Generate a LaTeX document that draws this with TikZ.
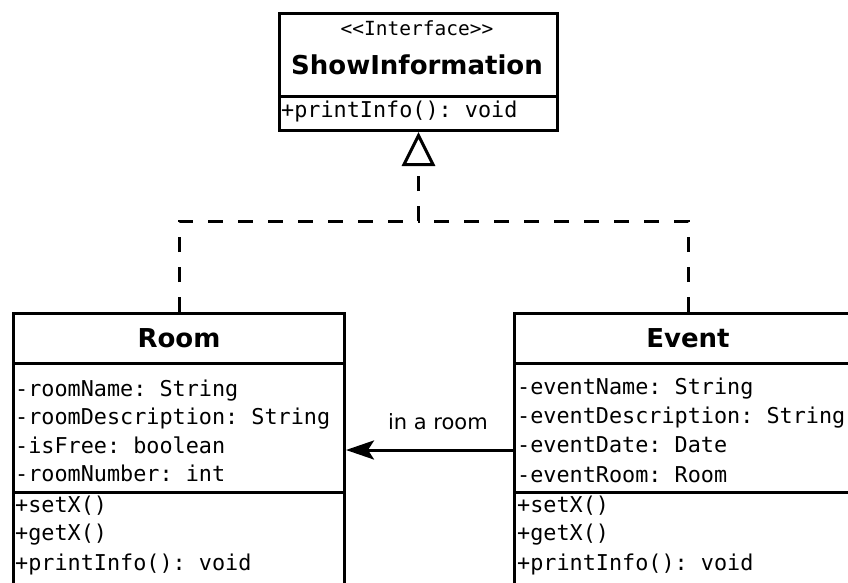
\documentclass[tikz,border=0pt]{standalone}
\usepackage{fontspec}
\setmainfont{DejaVu Sans}
\setmonofont{DejaVu Sans Mono}
\usetikzlibrary{arrows.meta}

\begin{document}
\begin{tikzpicture}[x=1pt,y=-1pt,
        part/.style={draw,line width=3pt,anchor=north west,inner sep=0pt},
        classname/.style={font=\fontsize{26}{30}\selectfont\bfseries},
        member/.style={anchor=west,inner sep=0pt,text height=15pt,text depth=4pt,font=\fontsize{21.8}{26}\ttfamily},
        realize/.style={line width=3pt,dash pattern=on 15pt off 15pt}]
    \useasboundingbox (0,0) rectangle (848,582);

    % interface
    \node[part,minimum width=278pt,minimum height=83pt] (ifname) at (278,12) {};
    \node[part,minimum width=278pt,minimum height=34pt] (ifops) at (278,95) {};
    \node[inner sep=0pt,font=\fontsize{19.5}{22}\ttfamily] (stereo) at (417,28) {<<Interface>>};
    \node[classname,inner sep=0pt] (ifclass) at (417,65) {ShowInformation};
    \node[member] (ifprint) at (281,112) {+printInfo(): void};

    % Room
    \node[part,minimum width=331pt,minimum height=50pt] (roomname) at (12,312) {};
    \node[part,minimum width=331pt,minimum height=129pt] (roomattr) at (12,362) {};
    \node[part,minimum width=331pt,minimum height=130pt] (roomops) at (12,491) {};
    \node[classname] (roomtitle) at (roomname.center) {Room};
    \node[member] (roomA) at (15,391) {-roomName: String};
    \node[member] (roomB) at (15,419) {-roomDescription: String};
    \node[member] (roomC) at (15,448) {-isFree: boolean};
    \node[member] (roomD) at (15,476) {-roomNumber: int};
    \node[member] (roomE) at (15,507) {+setX()};
    \node[member] (roomF) at (15,535) {+getX()};
    \node[member] (roomG) at (15,565) {+printInfo(): void};

    % Event
    \node[part,minimum width=347pt,minimum height=50pt] (eventname) at (513,312) {};
    \node[part,minimum width=347pt,minimum height=129pt] (eventattr) at (513,362) {};
    \node[part,minimum width=347pt,minimum height=130pt] (eventops) at (513,491) {};
    \node[classname] (eventtitle) at (eventname.center) {Event};
    \node[member] (eventA) at (517,389) {-eventName: String};
    \node[member] (eventB) at (517,418) {-eventDescription: String};
    \node[member] (eventC) at (517,447) {-eventDate: Date};
    \node[member] (eventD) at (517,477) {-eventRoom: Room};
    \node[member] (eventE) at (517,507) {+setX()};
    \node[member] (eventF) at (517,535) {+getX()};
    \node[member] (eventG) at (517,565) {+printInfo(): void};

    % realization
    \coordinate (join) at (ifops.south |- 0,221);
    \draw[realize] (roomname.north) |- (join);
    \draw[realize] (eventname.north) |- (join);
    \draw[realize,-{Triangle[open,length=34pt,width=33pt]}] (join) -- (ifops.south);

    % association
    \draw[line width=3pt,-{Stealth[length=28pt,width=19pt,inset=6pt]}]
        ([yshift=-22pt]eventattr.west) -- ([yshift=-22pt]roomattr.east)
        node[pos=0.45,yshift=28pt,font=\fontsize{21}{24}\selectfont] (assoc) {in a room};
\end{tikzpicture}
\end{document}
